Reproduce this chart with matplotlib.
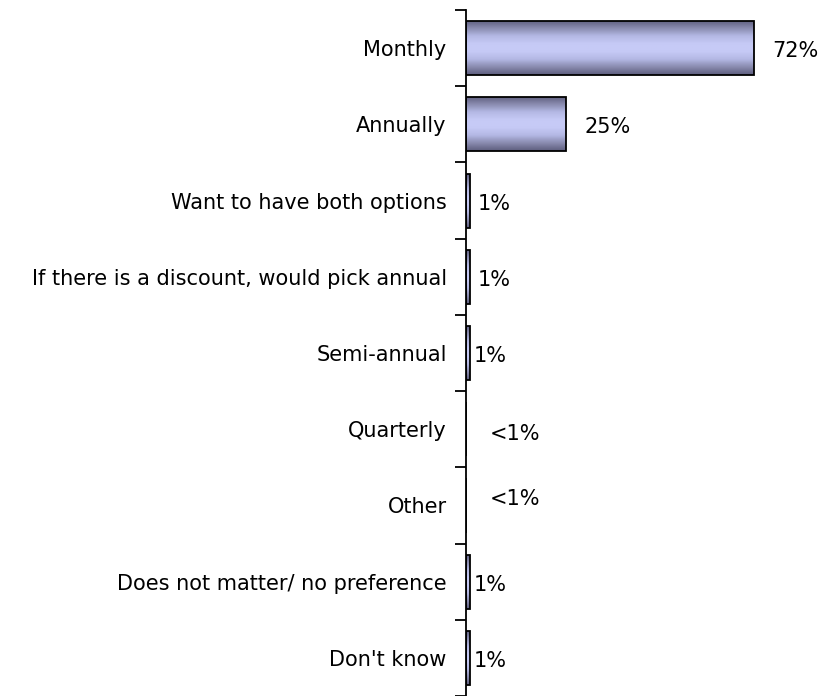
import matplotlib
matplotlib.use("Agg")
import matplotlib.pyplot as plt
import numpy as np
from matplotlib.colors import LinearSegmentedColormap
from matplotlib.ticker import FixedLocator

categories = ['Monthly', 'Annually', 'Want to have both options',
              'If there is a discount, would pick annual', 'Semi-annual',
              'Quarterly', 'Other', 'Does not matter/ no preference', "Don't know"]
values = [72, 25, 1, 1, 1, 0, 0, 1, 1]
labels = ['72%', '25%', '1%', '1%', '1%', '<1%', '<1%', '1%', '1%']

plt.rcParams['font.family'] = ['DejaVu Sans']
fs = 15

fig = plt.figure(figsize=(8.2, 6.96), dpi=100)
ax = fig.add_axes([0.5685, 0.0, 0.39, 0.9856])

n = len(categories)
ypos = np.arange(n)
bar_h = 0.71

# dark edges, light middle
cmap = LinearSegmentedColormap.from_list(
    'band', ['#5e5e7e', '#8a8cb0', '#b4b8e4', '#c6caf6', '#c6caf6', '#b4b8e4', '#8a8cb0', '#5e5e7e'])
grad = np.linspace(0, 1, 64).reshape(-1, 1)

bars = ax.barh(ypos, values, height=bar_h, color='none', edgecolor='black',
               linewidth=1.3, zorder=3)
for b, v in zip(bars, values):
    if v <= 0:
        continue
    x0, y0 = b.get_x(), b.get_y()
    im = ax.imshow(grad, cmap=cmap, aspect='auto', interpolation='bilinear',
                   extent=[x0, x0 + b.get_width(), y0 + b.get_height(), y0], zorder=2)
    im.set_clip_path(b)

# value labels
offsets = {0: 4.5, 1: 4.5, 2: 1.8, 3: 1.8, 4: 0.8, 7: 0.8, 8: 0.8}
for i, (v, t) in enumerate(zip(values, labels)):
    if v > 0:
        ax.text(v + offsets.get(i, 2.0), i + 0.04, t, va='center', ha='left', fontsize=fs)
    else:
        dy = 0.06 if i == 5 else -0.09
        ax.text(6.0, i + dy, t, va='center', ha='left', fontsize=fs)

ax.set_xlim(0, 80)
ax.set_ylim(n - 0.5, -0.5)
ax.set_yticks(ypos)
ax.set_yticklabels(categories, fontsize=fs)
ax.yaxis.set_minor_locator(FixedLocator(np.arange(-0.5, n, 1.0)))
ax.tick_params(axis='y', which='major', length=0, pad=14)
ax.tick_params(axis='y', which='minor', length=8, width=1.3, direction='out')
ax.set_xticks([])
for s in ['top', 'right', 'bottom']:
    ax.spines[s].set_visible(False)
ax.spines['left'].set_linewidth(1.3)

fig.savefig('out.png', dpi=100)
